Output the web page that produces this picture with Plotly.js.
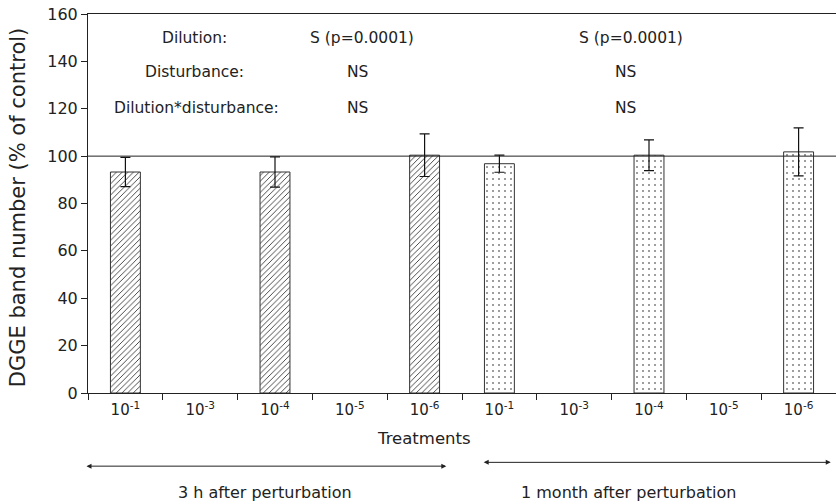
<!DOCTYPE html>
<html>
<head>
<meta charset="utf-8">
<script src="https://cdn.plot.ly/plotly-3.0.1.min.js"></script>
<style>html,body{margin:0;padding:0;background:#fff;}#chart{width:836px;height:504px;}</style>
</head>
<body>
<div id="chart"></div>
<script>
// ---- data ----
const categories = ["3h 1e-1","3h 1e-3","3h 1e-4","3h 1e-5","3h 1e-6","1m 1e-1","1m 1e-3","1m 1e-4","1m 1e-5","1m 1e-6"];
const tickLabels = ["10<sup>-1</sup>","10<sup>-3</sup>","10<sup>-4</sup>","10<sup>-5</sup>","10<sup>-6</sup>","10<sup>-1</sup>","10<sup>-3</sup>","10<sup>-4</sup>","10<sup>-5</sup>","10<sup>-6</sup>"];
const cats3h = ["3h 1e-1","3h 1e-3","3h 1e-4","3h 1e-5","3h 1e-6"];
const cats1m = ["1m 1e-1","1m 1e-3","1m 1e-4","1m 1e-5","1m 1e-6"];
const values3h = [93.3, null, 93.3, null, 100.4];
const errors3h = [6.2, null, 6.4, null, 9.0];
const values1m = [96.8, null, 100.4, null, 101.8];
const errors1m = [3.6, null, 6.5, null, 10.1];
const controlLevel = 100;
const statRows = ["Dilution:", "Disturbance:", "Dilution*disturbance:"];
const stat3h = ["S (p=0.0001)", "NS", "NS"];
const stat1m = ["S (p=0.0001)", "NS", "NS"];
const periodLabels = ["3 h after perturbation", "1 month after perturbation"];
const xTitle = "Treatments";
const yTitle = "DGGE band number (% of control)";

const FONT = "DejaVu Sans, Verdana, sans-serif";
const TXT = "#222";

const traces = [
  {
    type: "bar", x: cats3h, y: values3h, width: 0.4,
    marker: {color: "#fff", line: {color: "#333", width: 1},
      pattern: {shape: "/", size: 4, solidity: 0.22, fgcolor: "#333", bgcolor: "#fff", fillmode: "replace"}},
    error_y: {type: "data", array: errors3h, visible: true, color: "#111", thickness: 1.2, width: 5},
    hoverinfo: "none", showlegend: false
  },
  {
    type: "bar", x: cats1m, y: values1m, width: 0.4,
    marker: {color: "#fff", line: {color: "#333", width: 1},
      pattern: {shape: ".", size: 6, solidity: 0.06, fgcolor: "#222", bgcolor: "#fff", fillmode: "replace"}},
    error_y: {type: "data", array: errors1m, visible: true, color: "#111", thickness: 1.2, width: 5},
    hoverinfo: "none", showlegend: false
  }
];

const SF = 15.5;
const ann = [];
const rowY = [150, 135.6, 120.4];
const rowX = [0.93, 0.92, 0.95];
statRows.forEach((t, i) => {
  ann.push({x: rowX[i], y: rowY[i], xref: "x", yref: "y", text: t, showarrow: false, xanchor: "center", yanchor: "middle", font: {family: FONT, size: SF, color: TXT}});
});
const s3x = [3.16, 3.1, 3.1];
const s1x = [6.76, 6.69, 6.69];
stat3h.forEach((t, i) => {
  ann.push({x: s3x[i], y: rowY[i], xref: "x", yref: "y", text: t, showarrow: false, xanchor: "center", yanchor: "middle", font: {family: FONT, size: SF, color: TXT}});
});
stat1m.forEach((t, i) => {
  ann.push({x: s1x[i], y: rowY[i], xref: "x", yref: "y", text: t, showarrow: false, xanchor: "center", yanchor: "middle", font: {family: FONT, size: SF, color: TXT}});
});
// axis titles
ann.push({x: 0.449, y: -0.12, xref: "paper", yref: "paper", text: xTitle, showarrow: false, xanchor: "center", yanchor: "middle", font: {family: FONT, size: 16.5, color: TXT}});
ann.push({x: -0.0936, y: 0.49, xref: "paper", yref: "paper", text: yTitle, textangle: -90, showarrow: false, xanchor: "center", yanchor: "middle", font: {family: FONT, size: 21, color: TXT}});
// period arrows
ann.push({x: 4.29, y: -0.193, xref: "x", yref: "paper", ax: -0.54, ay: 0, axref: "x", ayref: "pixel", text: "", showarrow: true, arrowhead: 2, arrowside: "end+start", arrowsize: 1, arrowwidth: 1, arrowcolor: "#222"});
ann.push({x: 9.43, y: -0.183, xref: "x", yref: "paper", ax: 4.77, ay: 0, axref: "x", ayref: "pixel", text: "", showarrow: true, arrowhead: 2, arrowside: "end+start", arrowsize: 1, arrowwidth: 1, arrowcolor: "#222"});
ann.push({x: 1.87, y: -0.262, xref: "x", yref: "paper", text: periodLabels[0], showarrow: false, xanchor: "center", yanchor: "middle", font: {family: FONT, size: 16, color: TXT}});
ann.push({x: 6.72, y: -0.262, xref: "x", yref: "paper", text: periodLabels[1], showarrow: false, xanchor: "center", yanchor: "middle", font: {family: FONT, size: 16, color: TXT}});

const layout = {
  width: 836, height: 504,
  margin: {l: 88, r: 0, t: 14, b: 111},
  paper_bgcolor: "#fff", plot_bgcolor: "#fff",
  barmode: "overlay",
  font: {family: FONT, color: TXT},
  xaxis: {
    type: "category", categoryorder: "array", categoryarray: categories,
    tickmode: "array", tickvals: categories, ticktext: tickLabels,
    tickson: "boundaries", ticks: "outside", ticklen: 6, tickcolor: "#222",
    ticklabelstandoff: 3,
    range: [-0.5, 9.5], showline: true, linecolor: "#222", linewidth: 1, mirror: true,
    showgrid: false, zeroline: false,
    tickfont: {family: FONT, size: 15, color: TXT}
  },
  yaxis: {
    range: [0, 160], dtick: 20, ticks: "outside", ticklen: 6, tickcolor: "#222",
    showline: true, linecolor: "#222", linewidth: 1, showgrid: false, zeroline: false,
    tickfont: {family: FONT, size: 16, color: TXT}
  },
  shapes: [
    {type: "line", xref: "paper", yref: "y", x0: 0, x1: 1, y0: controlLevel, y1: controlLevel, line: {color: "#222", width: 1}}
  ],
  annotations: ann
};

Plotly.newPlot("chart", traces, layout, {staticPlot: true, displayModeBar: false});
</script>
</body>
</html>
